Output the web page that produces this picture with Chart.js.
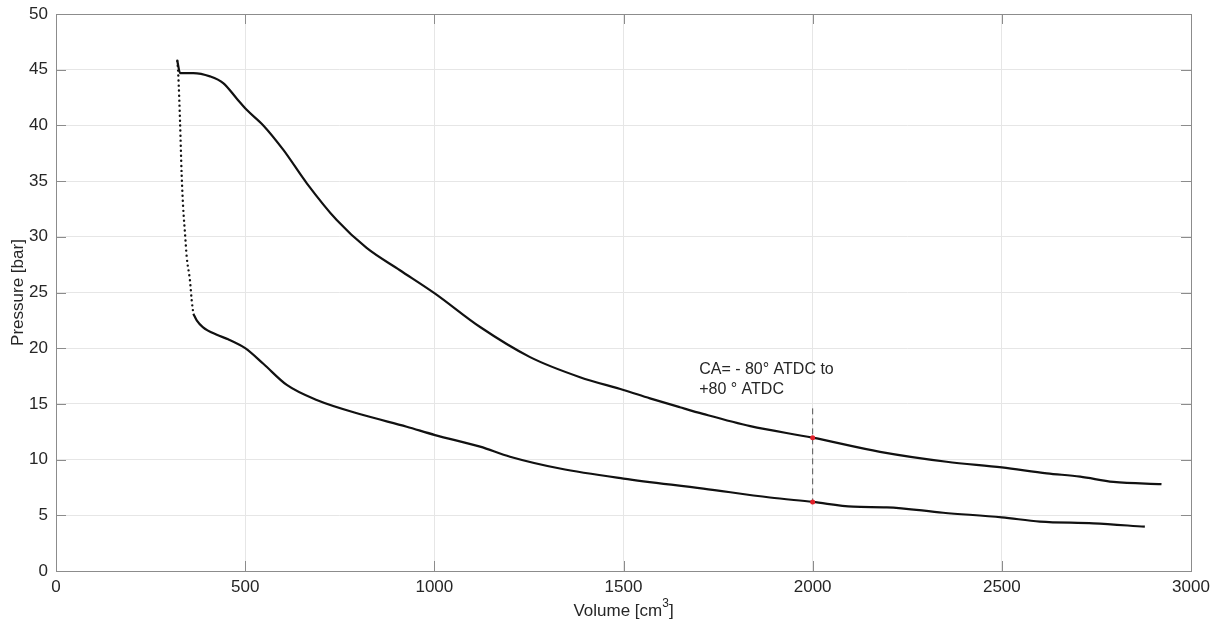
<!DOCTYPE html>
<html>
<head>
<meta charset="utf-8">
<title>p-V diagram</title>
<script src="https://cdn.jsdelivr.net/npm/chart.js@4/dist/chart.umd.min.js"></script>
<style>
  body { margin: 0; background: #fff; }
  #wrap { width: 1222px; height: 628px; }
</style>
</head>
<body>
<div id="wrap"><canvas id="pvChart" width="1222" height="628"></canvas></div>
<script>
'use strict';

// axis ticks
let xTicks = [0, 500, 1000, 1500, 2000, 2500, 3000];
let yTicks = [0, 5, 10, 15, 20, 25, 30, 35, 40, 45, 50];

// compression stroke (solid part), volume in cm3, pressure in bar
let compVol = [363, 372, 388, 425, 455, 500, 548, 610, 689, 812, 927, 1002, 1121, 1200, 1332, 1500, 1711, 1887, 2000, 2107, 2196, 2345, 2500, 2601, 2742, 2878];
let compP   = [23.1, 22.5, 21.9, 21.2, 20.8, 20.0, 18.6, 16.7, 15.35, 14.0, 12.95, 12.2, 11.16, 10.26, 9.2, 8.3, 7.4, 6.6, 6.2, 5.77, 5.72, 5.23, 4.82, 4.43, 4.28, 3.98];

// fast pressure rise near TDC (sparse samples, shown dotted)
let riseVol = [320.6, 323, 328, 332, 336, 341, 345.5, 354, 358.7, 363];
let riseP   = [45.8, 44.7, 40.2, 35.7, 32.7, 30.3, 28.2, 26.1, 24.3, 23.1];

// expansion stroke
let expVol = [320.6, 328, 363, 407, 442, 478, 504, 548, 601, 663, 742, 821, 909, 1002, 1121, 1253, 1385, 1500, 1570, 1649, 1710, 1835, 2000, 2178, 2354, 2500, 2619, 2707, 2795, 2922];
let expP   = [45.8, 44.7, 44.7, 44.4, 43.8, 42.4, 41.4, 40.0, 37.8, 34.8, 31.5, 29.0, 27.0, 24.9, 21.9, 19.2, 17.4, 16.25, 15.5, 14.7, 14.1, 13.0, 11.97, 10.7, 9.81, 9.3, 8.77, 8.47, 8.0, 7.8];

// crank angle markers at 2000 cm3
let markVol = [2000, 2000];
let markP   = [11.97, 6.2];
let dashVol = [2000, 2000];
let dashP   = [14.6, 6.0];

let noteLines = ['CA= - 80° ATDC to', '+80 ° ATDC'];
let noteVol = 1700;
let noteP = [18.1, 16.25];

let font = 'Liberation Sans, Arial, Helvetica, sans-serif';
let tickLen = 10;

function toPoints(xs, ys) {
  let pts = [];
  for (let i = 0; i < xs.length; i++) {
    pts.push({ x: xs[i], y: ys[i] });
  }
  return pts;
}

// box, inward ticks, axis titles and the text note
let decorations = {
  id: 'decorations',
  afterDatasetsDraw(chart) {
    let ctx = chart.ctx;
    let a = chart.chartArea;
    let xs = chart.scales.x;
    let ys = chart.scales.y;

    ctx.save();
    ctx.strokeStyle = '#8c8c8c';
    ctx.lineWidth = 1;
    ctx.strokeRect(Math.round(a.left) + 0.5, Math.round(a.top) + 0.5,
      Math.round(a.right - a.left), Math.round(a.bottom - a.top));

    ctx.beginPath();
    xTicks.forEach(v => {
      let px = Math.round(xs.getPixelForValue(v)) + 0.5;
      ctx.moveTo(px, a.bottom); ctx.lineTo(px, a.bottom - tickLen);
      ctx.moveTo(px, a.top); ctx.lineTo(px, a.top + tickLen);
    });
    yTicks.forEach(v => {
      let py = Math.round(ys.getPixelForValue(v)) + 0.5;
      ctx.moveTo(a.left, py); ctx.lineTo(a.left + tickLen, py);
      ctx.moveTo(a.right, py); ctx.lineTo(a.right - tickLen, py);
    });
    ctx.stroke();

    ctx.fillStyle = '#262626';

    // note next to the marker line
    ctx.font = '16px ' + font;
    ctx.textAlign = 'left';
    ctx.textBaseline = 'middle';
    noteLines.forEach((t, i) => {
      ctx.fillText(t, xs.getPixelForValue(noteVol), ys.getPixelForValue(noteP[i]));
    });

    // y title
    ctx.save();
    ctx.translate(18, (a.top + a.bottom) / 2);
    ctx.rotate(-Math.PI / 2);
    ctx.textAlign = 'center';
    ctx.font = '17px ' + font;
    ctx.fillText('Pressure [bar]', 0, 0);
    ctx.restore();

    // x title with superscript
    let main = 'Volume [cm';
    let sup = '3';
    let end = ']';
    ctx.font = '17px ' + font;
    let w1 = ctx.measureText(main).width;
    let w3 = ctx.measureText(end).width;
    ctx.font = '12px ' + font;
    let w2 = ctx.measureText(sup).width;
    let cx = (a.left + a.right) / 2;
    let left = cx - (w1 + w2 + w3) / 2;
    let ty = 611;
    ctx.textAlign = 'left';
    ctx.font = '17px ' + font;
    ctx.fillText(main, left, ty);
    ctx.fillText(end, left + w1 + w2, ty);
    ctx.font = '12px ' + font;
    ctx.fillText(sup, left + w1, ty - 7);
    ctx.restore();
  }
};

let ctx = document.getElementById('pvChart').getContext('2d');

let pvChart = new Chart(ctx, {
  type: 'scatter',
  data: {
    datasets: [
      {
        label: 'markers',
        data: toPoints(markVol, markP),
        pointRadius: 2.5,
        pointBackgroundColor: '#e3202a',
        pointBorderWidth: 0,
        showLine: false,
        order: 0
      },
      {
        label: 'expansion',
        data: toPoints(expVol, expP),
        showLine: true,
        borderColor: '#111',
        borderWidth: 2.2,
        cubicInterpolationMode: 'monotone',
        pointRadius: 0,
        order: 1
      },
      {
        label: 'compression',
        data: toPoints(compVol, compP),
        showLine: true,
        borderColor: '#111',
        borderWidth: 2.2,
        cubicInterpolationMode: 'monotone',
        pointRadius: 0,
        order: 2
      },
      {
        label: 'rise',
        data: toPoints(riseVol, riseP),
        showLine: true,
        borderColor: '#111',
        borderWidth: 2.4,
        borderDash: [0, 5],
        borderCapStyle: 'round',
        cubicInterpolationMode: 'monotone',
        pointRadius: 0,
        order: 3
      },
      {
        label: 'CA line',
        data: toPoints(dashVol, dashP),
        showLine: true,
        borderColor: '#555',
        borderWidth: 1,
        borderDash: [6, 4],
        pointRadius: 0,
        order: 4
      }
    ]
  },
  options: {
    responsive: false,
    animation: false,
    layout: { padding: { left: 0, top: 14, right: 31, bottom: 0 } },
    plugins: {
      legend: { display: false },
      tooltip: { enabled: false }
    },
    scales: {
      x: {
        type: 'linear',
        min: 0,
        max: 3000,
        afterBuildTicks: s => { s.ticks = xTicks.map(v => ({ value: v })); },
        afterFit: s => { s.height = 57; s.paddingLeft = 0; s.paddingRight = 0; },
        grid: { color: '#e6e6e6', drawTicks: false },
        border: { display: false },
        ticks: {
          color: '#262626',
          padding: 6,
          maxRotation: 0,
          callback: v => String(v),
          font: { family: font, size: 17 }
        }
      },
      y: {
        type: 'linear',
        min: 0,
        max: 50,
        afterBuildTicks: s => { s.ticks = yTicks.map(v => ({ value: v })); },
        afterFit: s => { s.width = 56; s.paddingTop = 0; s.paddingBottom = 0; },
        grid: { color: '#e6e6e6', drawTicks: false },
        border: { display: false },
        ticks: {
          color: '#262626',
          padding: 8,
          callback: v => String(v),
          font: { family: font, size: 17 }
        }
      }
    }
  },
  plugins: [decorations]
});
</script>
</body>
</html>
